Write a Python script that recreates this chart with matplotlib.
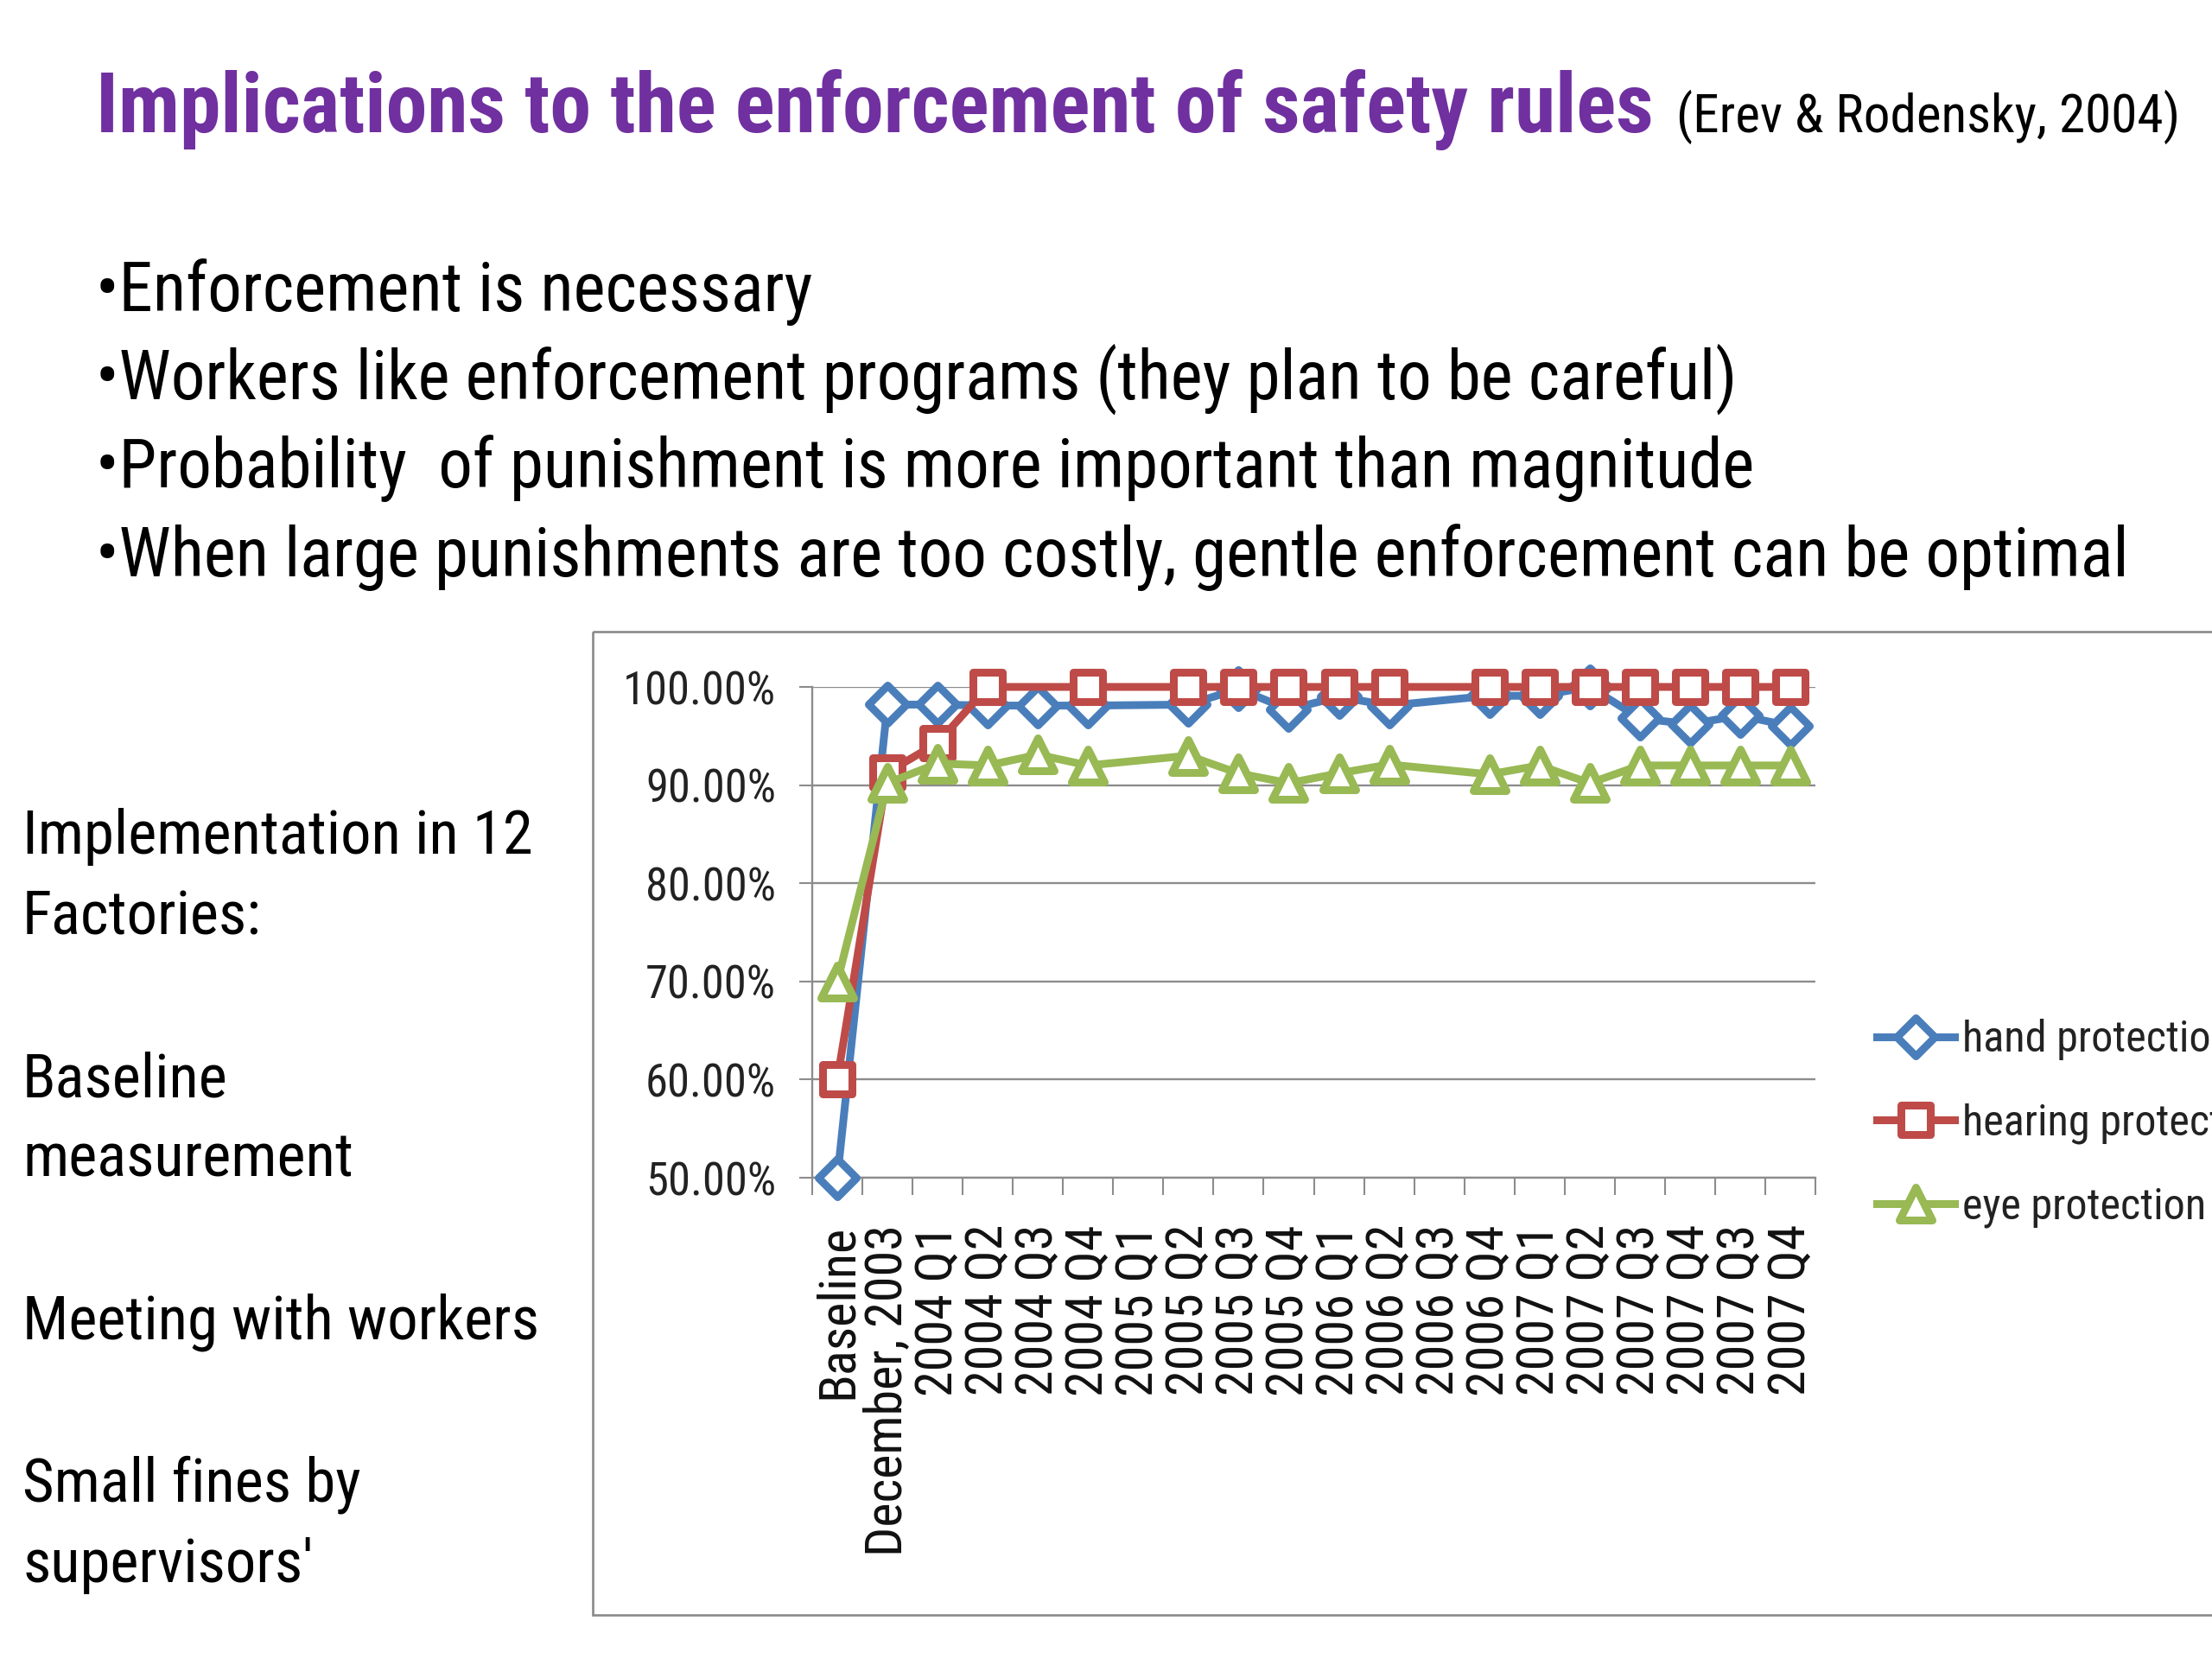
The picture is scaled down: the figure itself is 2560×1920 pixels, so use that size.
import numpy as np
import matplotlib
matplotlib.use("Agg")
import matplotlib.pyplot as plt
from matplotlib import font_manager as fm
from matplotlib.font_manager import FontProperties
from matplotlib.markers import MarkerStyle
from matplotlib.patches import Rectangle

# ---------------- data ----------------
categories = ["Baseline", "December, 2003", "2004 Q1", "2004 Q2", "2004 Q3", "2004 Q4",
              "2005 Q1", "2005 Q2", "2005 Q3", "2005 Q4", "2006 Q1", "2006 Q2",
              "2006 Q3", "2006 Q4", "2007 Q1", "2007 Q2", "2007 Q3", "2007 Q4",
              "2007 Q3", "2007 Q4"]
nan = np.nan
hand_protection = [0.50, 0.982, 0.982, 0.981, 0.981, 0.981, nan, 0.982, 0.998, 0.977,
                   0.990, 0.981, nan, 0.991, 0.991, 1.000, 0.968, 0.962, 0.971, 0.960]
hearing_protection = [0.60, 0.913, 0.943, 1.000, nan, 1.000, nan, 1.000, 1.000, 1.000,
                      1.000, 1.000, nan, 1.000, 1.000, 1.000, 1.000, 1.000, 1.000, 1.000]
eye_protection = [0.70, 0.902, 0.922, 0.920, 0.931, 0.920, nan, 0.930, 0.912, 0.902,
                  0.912, 0.921, nan, 0.911, 0.920, 0.902, 0.920, 0.920, 0.920, 0.920]
series_names = ["hand protection", "hearing protection", "eye protection"]
y_ticks = [0.5, 0.6, 0.7, 0.8, 0.9, 1.0]

title_text = "Implications to the enforcement of safety rules"
citation_text = "(Erev & Rodensky, 2004)"
bullets = ["\u2022Enforcement is necessary",
           "\u2022Workers like enforcement programs (they plan to be careful)",
           "\u2022Probability  of punishment is more important than magnitude",
           "\u2022When large punishments are too costly, gentle enforcement can be optimal"]
side_notes = ["Implementation in 12", "Factories:", "Baseline", "measurement",
              "Meeting with workers", "Small fines by", "supervisors'"]

# ---------------- fonts ----------------
def _weight(e):
    w = e.weight
    if isinstance(w, str):
        return {'bold': 700, 'normal': 400, 'regular': 400, 'book': 400, 'medium': 500,
                'semibold': 600, 'demibold': 600, 'heavy': 800, 'black': 900,
                'light': 300}.get(w.lower(), 400)
    return int(w)


def pick_font(bold=False):
    ents = [e for e in fm.fontManager.ttflist if str(e.style) == 'normal']

    def ok(e):
        w = _weight(e)
        return (w >= 650 and w <= 750) if bold else (350 <= w <= 450)
    names = ['Liberation Sans Narrow', 'Arial Narrow', 'Roboto Condensed',
             'Open Sans Condensed', 'Noto Sans Condensed', 'DejaVu Sans Condensed',
             'Noto Sans SemiCondensed', 'Open Sans SemiCondensed']
    for nm in names:
        for e in ents:
            if e.name == nm and ok(e):
                return FontProperties(fname=e.fname)
    for base in ['Liberation Sans', 'Noto Sans', 'Roboto', 'Open Sans', 'DejaVu Sans']:
        for st in ['condensed', 'semi-condensed']:
            for e in ents:
                if e.name == base and str(e.stretch) == st and ok(e):
                    return FontProperties(fname=e.fname)
    return FontProperties(family='Liberation Sans', weight='bold' if bold else 'normal')


W, H = 2560, 1920
fig = plt.figure(figsize=(W / 100, H / 100), dpi=100)
fig.patch.set_facecolor('white')
renderer = fig.canvas.get_renderer()


def fit(s, fp, target_px, scale=1.0):
    p = fp.copy()
    p.set_size(100)
    t = fig.text(0, 0, s, fontproperties=p)
    w = t.get_window_extent(renderer).width
    t.remove()
    q = fp.copy()
    q.set_size(100 * target_px / w * scale)
    return q


narrow = pick_font(False)
narrow_bold = pick_font(True)

fp_title = fit(title_text, narrow_bold, 1914 - 111)
fp_cite = fit(citation_text, narrow, 2523 - 1940)
fp_bullet = fit(bullets[3], narrow, 2465 - 111)
fp_side = fit("Meeting with workers", narrow, 624 - 26)
fp_y = fit("100.00%", narrow, 165, 1.07)
fp_leg = fit("eye protection", narrow, 269, 1.05)
fp_x = fit("December, 2003", narrow, 384)

# ---------------- background (pixel coords) ----------------
bg = fig.add_axes([0, 0, 1, 1])
bg.set_xlim(0, W)
bg.set_ylim(H, 0)
bg.axis('off')

bg.text(111, 153, title_text, fontproperties=fp_title, color='#7030A0', va='baseline')
bg.text(1940, 153, citation_text, fontproperties=fp_cite, color='black', va='baseline')
for s, yb in zip(bullets, [360, 462, 564, 667]):
    bg.text(111, yb, s, fontproperties=fp_bullet, color='black', va='baseline')
for s, yb in zip(side_notes, [988, 1081, 1269, 1362, 1550, 1737, 1831]):
    bg.text(26, yb, s, fontproperties=fp_side, color='black', va='baseline')

bg.add_patch(Rectangle((686, 731), 2700 - 686, 1869 - 731, facecolor='none',
                       edgecolor='#8a8a8a', lw=1.9, clip_on=False))

# ---------------- chart ----------------
gray = '#8c8c8c'
ax = fig.add_axes([940 / W, 1 - 1363 / H, (2101 - 940) / W, (1363 - 795) / H])
ax.set_facecolor('white')
x = np.arange(len(categories))

colors = ['#4A7EBB', '#BE4B48', '#98B954']
markers = ['D', 's', '^']
msizes = [22, 24, 27]
lw = 6.5
mew = 6.5
handles = []
for vals, c, mk, ms, nm, z in zip([hand_protection, hearing_protection, eye_protection],
                                  colors, markers, msizes, series_names, [3, 4, 5]):
    v = np.array(vals, dtype=float)
    m = ~np.isnan(v)
    ln, = ax.plot(x[m], v[m], color=c, lw=lw, solid_joinstyle='round',
                  marker=MarkerStyle(mk, joinstyle='round'), ms=ms, mfc='white',
                  mec=c, mew=mew, clip_on=False, label=nm, zorder=z)
    handles.append(ln)

ax.set_xlim(-0.5, len(categories) - 0.5)
ax.set_ylim(y_ticks[0], y_ticks[-1])
ax.set_yticks(y_ticks, labels=[f"{v * 100:.2f}%" for v in y_ticks],
              fontproperties=fp_y)
ax.yaxis.grid(True, color=gray, lw=1.7)
ax.set_axisbelow(True)

ax.set_xticks(np.arange(len(categories) + 1) - 0.5)
ax.set_xticklabels([])
ax.set_xticks(x, minor=True)
ax.set_xticklabels(categories, minor=True, rotation=90, fontproperties=fp_x)

ax.tick_params(axis='x', which='major', direction='out', length=20 * 0.72,
               width=1.5, color=gray)
ax.tick_params(axis='x', which='minor', length=0, pad=54 * 0.72, labelcolor='#111111')
ax.tick_params(axis='y', direction='out', length=15 * 0.72, width=1.5, color=gray,
               pad=27 * 0.72, labelcolor='#222222')
for side in ['top', 'right']:
    ax.spines[side].set_visible(False)
for side in ['left', 'bottom']:
    ax.spines[side].set_color(gray)
    ax.spines[side].set_linewidth(1.7)

F_px = fp_leg.get_size_in_points() * 100 / 72
leg = fig.legend(handles, series_names, loc='center left',
                 bbox_to_anchor=(2172 / W, 1 - 1300 / H), frameon=False, prop=fp_leg,
                 handlelength=90 / F_px, handletextpad=9 / F_px,
                 labelspacing=(106 - 1.15 * F_px) / F_px, borderpad=0,
                 borderaxespad=0, numpoints=1)
for t in leg.get_texts():
    t.set_color('#222222')

fig.savefig('out.png', dpi=100, facecolor='white')
